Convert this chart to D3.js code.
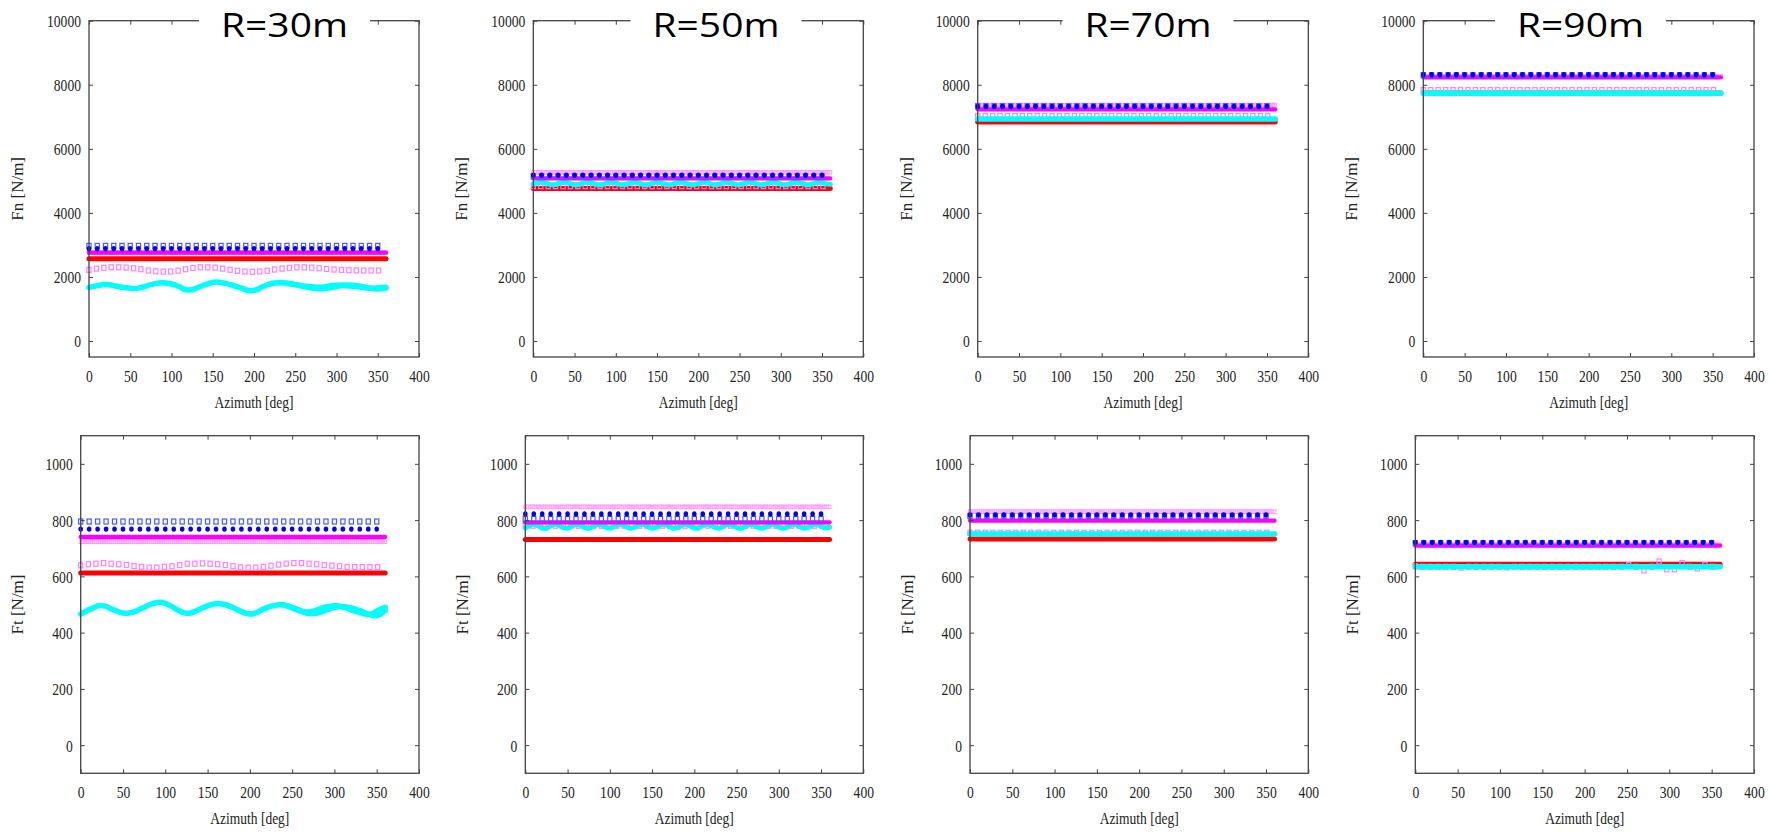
<!DOCTYPE html>
<html><head><meta charset="utf-8">
<script src="https://cdn.jsdelivr.net/npm/d3@7/dist/d3.min.js"></script>
<style>body{margin:0;background:#fff;}svg{display:block}</style>
</head><body>
<svg id="chart" width="1769" height="833"></svg>
<script>
// ---------------- DATA ----------------
const radii = ["R=30m", "R=50m", "R=70m", "R=90m"];
const xTicks = [0, 50, 100, 150, 200, 250, 300, 350, 400];
const fnTicks = [0, 2000, 4000, 6000, 8000, 10000];
const ftTicks = [0, 200, 400, 600, 800, 1000];

// azimuth grids (deg)
const az5 = d3.range(0, 361, 5);
const az9 = d3.range(0, 352, 9);
const az10 = d3.range(0, 351, 10);
const azDense = d3.range(0, 361, 2.5);
const azTail = d3.range(240, 361, 10);
const azEnds = [0, 360];

// flat levels per radius (R30, R50, R70, R90); null = not flat
const fnRed = [2570, 4760, 6834, 7745];
const ftRed = [612, 731, 733, 643];
const fnMagenta = [2760, 5074, 7231, 8231];
const ftMagenta = [740, 792, 798, 709];
const fnViolet = [2755, 5268, 7366, 8260];
const ftViolet = [723, 847, 830, 712];
const fnBlueSq = [2970, 5140, 7330, 8300];
const ftBlueSq = [795, 804, 815, 718];
const fnBlueDot = [2880, 5178, 7325, 8313];
const ftBlueDot = [768, 822, 818, 721];
const fnPinkLevel = [null, 4834, 7022, 7834];
const ftPinkLevel = [null, 780, 755, null];
const fnCyanLevel = [null, null, 6928, 7735];
const ftCyanLevel = [null, null, 751, 634];

// R=30m Fn pink open squares (every 9 deg)
const fnPinkSqR30 = [2220,2260,2285,2300,2300,2290,2270,2240,2200,2175,
                     2165,2170,2195,2240,2280,2300,2300,2290,2260,2225,
                     2190,2170,2160,2170,2195,2230,2260,2285,2300,2300,
                     2290,2270,2250,2230,2220,2210,2205,2200,2200,2200];
// R=30m Ft pink open squares (every 9 deg)
const ftPinkSqR30 = [639,643,645,647,645,643,641,637,634,631,
                     631,634,636,640,645,645,646,645,643,640,
                     636,632,631,631,634,638,642,645,647,647,
                     645,643,640,638,636,633,633,633,633,633];
// R=90m Ft pink open squares (every 9 deg)
const ftPinkSqR90 = [636,634,634,634,634,634,631,634,634,634,
                     634,634,632,634,634,634,634,634,634,634,
                     634,634,634,634,634,634,634,634,640,634,
                     621,634,653,625,625,648,634,628,641,634];

// R=30m Fn cyan (every 5 deg) + second branch from 240 deg
const fnCyanR30 = [1670,1700,1730,1750,1760,1755,1730,1700,1680,1660,
                   1645,1640,1650,1680,1720,1760,1790,1810,1815,1805,
                   1780,1740,1690,1620,1590,1600,1650,1700,1750,1790,
                   1830,1840,1830,1800,1770,1730,1690,1650,1600,1570,
                   1580,1620,1690,1740,1780,1810,1820,1815,1800,1780,
                   1760,1740,1720,1700,1690,1680,1680,1690,1710,1730,
                   1740,1740,1730,1720,1710,1700,1680,1660,1650,1650,
                   1660,1670,1680];
const fnCyanR30b = [1800,1760,1700,1650,1630,1650,1700,1750,1740,1700,1650,1620,1650];
// R=30m Ft cyan (every 5 deg) + second branch
const ftCyanR30 = [466,474,482,488,495,496,493,486,480,474,
                   470,469,471,476,483,490,497,503,507,508,
                   504,497,489,480,473,469,470,475,482,489,
                   495,500,503,503,500,495,489,482,475,469,
                   466,468,474,482,489,494,497,499,499,494,
                   488,482,477,474,473,476,481,487,491,494,
                   496,495,492,487,481,476,471,467,465,468,
                   476,484,490];
const ftCyanR30b = [499,490,478,468,470,480,490,493,488,478,466,460,478];
// R=50m cyan ripple (every 5 deg)
const fnCyanR50 = [4900,4940,4955,4930,4890,4880,4910,4950,4950,4915,
                   4880,4885,4925,4955,4940,4900,4878,4895,4940,4958,
                   4930,4890,4880,4910,4950,4950,4912,4880,4888,4930,
                   4955,4935,4895,4878,4900,4945,4955,4925,4885,4882,
                   4915,4952,4948,4908,4878,4892,4935,4958,4930,4890,
                   4880,4910,4950,4950,4915,4880,4886,4928,4956,4938,
                   4898,4878,4898,4942,4955,4925,4888,4882,4915,4950,
                   4945,4905,4890];
const ftCyanR50 = [772,780,785,780,772,771,779,785,781,773,
                   771,778,785,782,774,771,777,784,783,775,
                   771,776,784,784,776,771,775,783,785,777,
                   771,774,782,785,778,771,773,781,785,779,
                   772,772,780,785,780,773,771,779,785,781,
                   774,771,777,784,783,775,771,776,784,784,
                   776,771,775,783,785,777,771,774,782,785,
                   778,772,775];

// ---------------- LAYOUT ----------------
const svg = d3.select("#chart");
svg.append("rect").attr("width", 1769).attr("height", 833).attr("fill", "#fff");

const topLeft = [89, 533.3, 977.7, 1423.3];
const topRight = [419, 863.3, 1308.3, 1754];
const botLeft = [80.7, 525.3, 970, 1415.3];
const botRight = [419, 863.3, 1308.3, 1754];
const titleCx = [284.5, 716, 1148, 1580.5];
const SERIF = "'Liberation Serif','Times New Roman',serif";
const fmt = d3.format("d");

function levelPts(az, v) { return az.map(a => [a, v]); }
function zipPts(az, vals) { return az.map((a, i) => [a, vals[i]]); }

function buildSeries(isFn, i) {
  const S = [];
  const red = isFn ? fnRed : ftRed;
  const mag = isFn ? fnMagenta : ftMagenta;
  const vio = isFn ? fnViolet : ftViolet;
  const bsq = isFn ? fnBlueSq : ftBlueSq;
  const bdot = isFn ? fnBlueDot : ftBlueDot;
  const pinkL = isFn ? fnPinkLevel : ftPinkLevel;
  const cyanL = isFn ? fnCyanLevel : ftCyanLevel;

  S.push({kind: "line", color: "#ff0000", w: 5, pts: levelPts(azEnds, red[i])});
  let pinkPts;
  if (i === 0) pinkPts = zipPts(az9, isFn ? fnPinkSqR30 : ftPinkSqR30);
  else if (i === 3 && !isFn) pinkPts = zipPts(az9, ftPinkSqR90);
  else pinkPts = levelPts(az9, pinkL[i]);
  S.push({kind: "square", color: "#ff80ff", w: 1.2, sw: 4.2, sh: 5, pts: pinkPts});
  if (i === 0) {
    S.push({kind: "line", color: "#00ffff", w: 5.5, curve: true, pts: zipPts(az5, isFn ? fnCyanR30 : ftCyanR30)});
    S.push({kind: "line", color: "#00ffff", w: 5.5, curve: true, pts: zipPts(azTail, isFn ? fnCyanR30b : ftCyanR30b)});
  } else if (i === 1) {
    S.push({kind: "line", color: "#00ffff", w: 5, curve: true, pts: zipPts(az5, isFn ? fnCyanR50 : ftCyanR50)});
  } else {
    S.push({kind: "line", color: "#00ffff", w: 5.5, pts: levelPts(azEnds, cyanL[i])});
  }
  S.push({kind: "square", color: "#ff99ff", w: 0.9, sw: 3, sh: 3.6, pts: levelPts(azDense, vio[i])});
  S.push({kind: "line", color: "#ff00ff", w: 4.3, pts: levelPts(azEnds, mag[i])});
  S.push({kind: "square", color: "#4a5cff", w: 1.2, sw: 4.2, sh: 5, pts: levelPts(az10, bsq[i])});
  S.push({kind: "dot", color: "#0000ee", pts: levelPts(az10, bdot[i])});
  return S;
}

function drawPanel(x0, x1, y0, y1, yDomain, yTicks, yLabel, series, labelOffset) {
  const x = d3.scaleLinear().domain([0, 400]).range([x0, x1]);
  const y = d3.scaleLinear().domain(yDomain).range([y1, y0]);
  const g = svg.append("g");

  const lineGen = d3.line().x(d => x(d[0])).y(d => y(d[1]));
  const curveGen = d3.line().x(d => x(d[0])).y(d => y(d[1])).curve(d3.curveCatmullRom.alpha(0.5));
  series.forEach(s => {
    if (s.kind === "line") {
      g.append("path").attr("d", (s.curve ? curveGen : lineGen)(s.pts))
        .attr("fill", "none").attr("stroke", s.color).attr("stroke-width", s.w)
        .attr("stroke-linecap", "round").attr("stroke-linejoin", "round");
    } else if (s.kind === "square") {
      g.append("g").selectAll("rect").data(s.pts).join("rect")
        .attr("x", d => x(d[0]) - s.sw / 2).attr("y", d => y(d[1]) - s.sh / 2)
        .attr("width", s.sw).attr("height", s.sh)
        .attr("fill", "none").attr("stroke", s.color).attr("stroke-width", s.w);
    } else if (s.kind === "dot") {
      g.append("g").selectAll("ellipse").data(s.pts).join("ellipse")
        .attr("cx", d => x(d[0])).attr("cy", d => y(d[1]))
        .attr("rx", 2.3).attr("ry", 2.7).attr("fill", s.color);
    }
  });

  const ax = g.append("g").attr("transform", `translate(0,${y1})`)
    .call(d3.axisBottom(x).tickValues(xTicks).tickSize(-4).tickFormat(fmt));
  ax.select(".domain").remove();
  ax.selectAll("line").attr("stroke", "#444");
  ax.selectAll("text").attr("y", 24.5).attr("dy", null)
    .attr("font-family", SERIF).attr("font-size", 17).attr("fill", "#222")
    .attr("textLength", d => fmt(d).length * 6.8).attr("lengthAdjust", "spacingAndGlyphs");
  ax.attr("font-family", null).attr("font-size", null);

  const axT = g.append("g").attr("transform", `translate(0,${y0})`)
    .call(d3.axisTop(x).tickValues(xTicks).tickSize(-4).tickFormat(""));
  axT.select(".domain").remove();
  axT.selectAll("line").attr("stroke", "#444");

  const ay = g.append("g").attr("transform", `translate(${x0},0)`)
    .call(d3.axisLeft(y).tickValues(yTicks).tickSize(-4).tickFormat(fmt));
  ay.select(".domain").remove();
  ay.selectAll("line").attr("stroke", "#444");
  ay.selectAll("text").attr("x", -8).attr("dy", "0.35em")
    .attr("font-family", SERIF).attr("font-size", 17).attr("fill", "#222")
    .attr("textLength", d => fmt(d).length * 6.8).attr("lengthAdjust", "spacingAndGlyphs");
  ay.attr("font-family", null).attr("font-size", null);

  const ayR = g.append("g").attr("transform", `translate(${x1},0)`)
    .call(d3.axisRight(y).tickValues(yTicks).tickSize(-4).tickFormat(""));
  ayR.select(".domain").remove();
  ayR.selectAll("line").attr("stroke", "#444");

  g.append("rect").attr("x", x0).attr("y", y0).attr("width", x1 - x0).attr("height", y1 - y0)
    .attr("fill", "none").attr("stroke", "#444").attr("stroke-width", 1.3);

  g.append("text").attr("x", (x0 + x1) / 2).attr("y", y1 + 51)
    .attr("text-anchor", "middle").attr("font-family", SERIF).attr("font-size", 17).attr("fill", "#222")
    .attr("textLength", 79).attr("lengthAdjust", "spacingAndGlyphs")
    .text("Azimuth [deg]");
  g.append("text")
    .attr("transform", `translate(${x0 - labelOffset},${(y0 + y1) / 2}) rotate(-90)`)
    .attr("text-anchor", "middle").attr("font-family", SERIF).attr("font-size", 17).attr("fill", "#222")
    .text(yLabel);
}

radii.forEach((r, i) => {
  drawPanel(topLeft[i], topRight[i], 20.7, 357, [-500, 10000], fnTicks, "Fn [N/m]", buildSeries(true, i), 66);
  drawPanel(botLeft[i], botRight[i], 435.7, 773.3, [-100, 1100], ftTicks, "Ft [N/m]", buildSeries(false, i), 57.5);
  svg.append("rect").attr("x", titleCx[i] - 85.5).attr("y", 0).attr("width", 171).attr("height", 42)
    .attr("fill", "#fff");
  svg.append("text").attr("x", titleCx[i]).attr("y", 37).attr("text-anchor", "middle")
    .attr("font-family", "'Open Sans', Lato, sans-serif").attr("font-size", 32).attr("fill", "#000")
    .attr("textLength", 127).attr("lengthAdjust", "spacingAndGlyphs")
    .text(r);
});
</script>
</body></html>
